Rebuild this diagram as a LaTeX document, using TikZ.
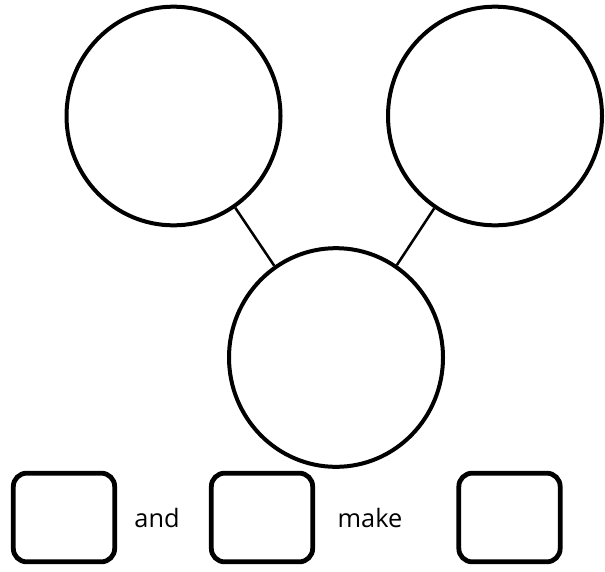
\documentclass[tikz,border=0pt]{standalone}
\usepackage{fontspec}
\setmainfont{Open Sans}
\usetikzlibrary{shapes.geometric}
\begin{document}
\begin{tikzpicture}[x=0.75pt,y=-0.75pt,
  bigcirc/.style={ellipse,draw=black,line width=3pt,minimum width=160.5pt,minimum height=164pt,inner sep=0pt},
  answerbox/.style={rectangle,draw=black,line width=3.6pt,rounded corners=10pt,minimum width=76pt,minimum height=66.5pt,inner sep=0pt},
  link/.style={draw=black,line width=1.9pt},
  word/.style={font=\fontsize{19pt}{22pt}\selectfont,inner sep=0pt,anchor=base}]
\useasboundingbox (0,0) rectangle (605,571);
\node[bigcirc] (L) at (173.5,116) {};
\node[bigcirc] (R) at (495,116) {};
\node[bigcirc] (B) at (336,357.5) {};
\draw[link] (L) -- (B);
\draw[link] (R) -- (B);
\node[answerbox] (b1) at (64,517.5) {};
\node[answerbox] (b2) at (262,517.5) {};
\node[answerbox] (b3) at (509.5,517.5) {};
\node[word] (and) at (157,527) {and};
\node[word] (make) at (370,527) {make};
\end{tikzpicture}
\end{document}
